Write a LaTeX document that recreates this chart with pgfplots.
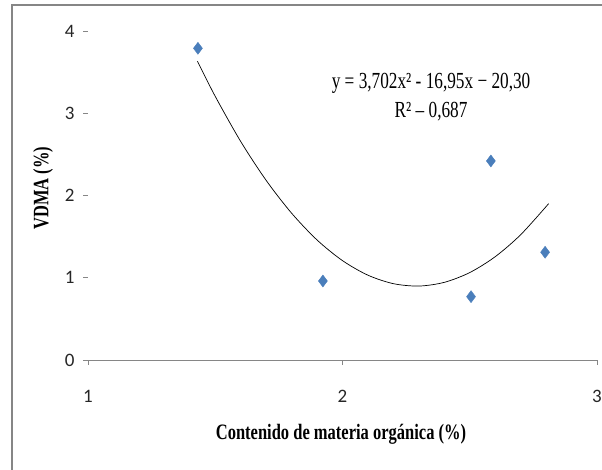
\documentclass[border=0pt]{standalone}
\usepackage{fontspec}
\usepackage{pgfplots}
\pgfplotsset{compat=1.18}
\newfontfamily\tnr[FakeStretch=0.75]{Liberation Serif}
\newfontfamily\calf{Carlito}
\definecolor{mkblue}{HTML}{4A7EBB}
\definecolor{axgray}{HTML}{868686}

\begin{document}
\begin{tikzpicture}[x=1pt,y=1pt]
\useasboundingbox (0,0) rectangle (602,470);
\draw[axgray,line width=1.3pt] (12,-5) -- (12,465) -- (610,465);
\begin{axis}[
  at={(88pt,110pt)}, anchor=south west,
  scale only axis, width=509pt, height=329pt,
  xmin=1, xmax=3, ymin=0, ymax=4,
  xtick={1,2,3}, ytick={0,1,2,3,4},
  axis x line=bottom, axis y line=left,
  x axis line style={axgray, line width=0.8pt, -},
  y axis line style={draw=none},
  tick style={axgray, line width=0.8pt},
  major tick length=5pt, tick align=outside,
  ticklabel style={font=\calf\fontsize{19}{19}\selectfont, text=black!85},
  xticklabel style={yshift=-22pt},
  yticklabel style={xshift=-5pt},
  /pgf/number format/assume math mode=true,
  clip=false,
]
\addplot[black, line width=0.7pt, smooth] coordinates {
  (1.43,3.632) (1.5,3.205) (1.6,2.657) (1.7,2.184) (1.8,1.785)
  (1.9,1.459) (2.0,1.208) (2.1,1.031) (2.2,0.928) (2.3,0.899)
  (2.4,0.944) (2.5,1.063) (2.6,1.256) (2.7,1.523) (2.81,1.901)
};
\addplot[only marks, mark=diamond*, mark size=6pt, mkblue] coordinates {
  (1.432,3.79) (1.923,0.96) (2.505,0.77) (2.583,2.42) (2.796,1.31)
};
\node[align=center, font=\tnr\fontsize{23}{29}\selectfont] at (axis cs:2.348,3.20)
  {y = 3,702x² - 16,95x − 20,30\\R² – 0,687};
\end{axis}
\node[font=\tnr\bfseries\fontsize{22}{22}\selectfont] at (341,36) {Contenido de materia orgánica (\%)};
\node[rotate=90, font=\tnr\bfseries\fontsize{22}{22}\selectfont] at (43,282) {VDMA (\%)};
\end{tikzpicture}
\end{document}
